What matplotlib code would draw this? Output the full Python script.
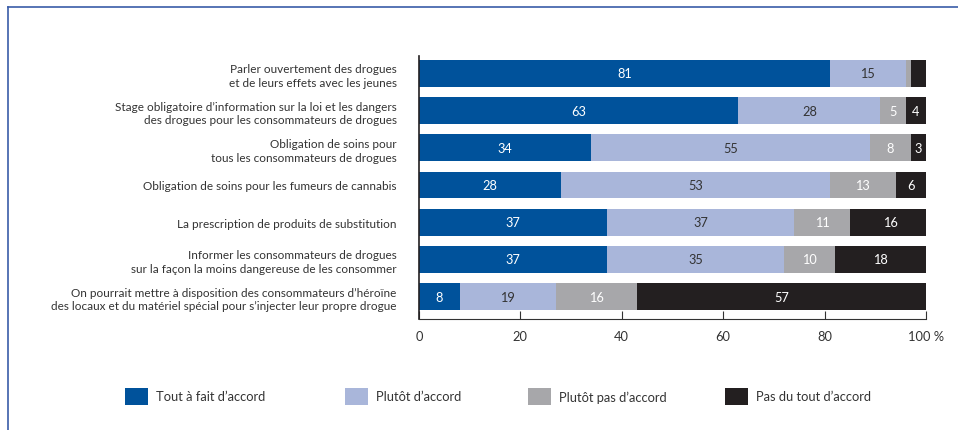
import matplotlib
matplotlib.use("Agg")
import matplotlib.pyplot as plt
from matplotlib.lines import Line2D
from matplotlib.patches import Rectangle
import numpy as np

plt.rcParams['font.family'] = ['Lato', 'DejaVu Sans']

categories = [
    "Parler ouvertement des drogues\net de leurs effets avec les jeunes",
    "Stage obligatoire d\u2019information sur la loi et les dangers\ndes drogues pour les consommateurs de drogues",
    "Obligation de soins pour\ntous les consommateurs de drogues",
    "Obligation de soins pour les fumeurs de cannabis",
    "La prescription de produits de substitution",
    "Informer les consommateurs de drogues\nsur la fa\u00e7on la moins dangereuse de les consommer",
    "On pourrait mettre \u00e0 disposition des consommateurs d\u2019h\u00e9ro\u00efne\ndes locaux et du mat\u00e9riel sp\u00e9cial pour s\u2019injecter leur propre drogue",
]
series_names = ["Tout \u00e0 fait d\u2019accord", "Plut\u00f4t d\u2019accord",
                "Plut\u00f4t pas d\u2019accord", "Pas du tout d\u2019accord"]
tout_a_fait = [81, 63, 34, 28, 37, 37, 8]
plutot = [15, 28, 55, 53, 37, 35, 19]
plutot_pas = [1, 5, 8, 13, 11, 10, 16]
pas_du_tout = [3, 4, 3, 6, 16, 18, 57]
show_labels = [[True] * 7, [True] * 7,
               [False, True, True, True, True, True, True],
               [False, True, True, True, True, True, True]]
x_ticks = [0, 20, 40, 60, 80, 100]
x_ticklabels = ["0", "20", "40", "60", "80", "100 %"]

colors = ["#00529B", "#A9B6DA", "#A7A7AA", "#231F20"]
text_colors = ["white", "#333333", "white", "white"]

fig = plt.figure(figsize=(9.58, 4.31), dpi=100)
ax = fig.add_axes([419/958, 1-320/431, (926-419)/958, (320-57)/431])

series = [tout_a_fait, plutot, plutot_pas, pas_du_tout]
y = np.arange(len(categories))
left = np.zeros(len(categories))
for s, (vals, col, tcol) in enumerate(zip(series, colors, text_colors)):
    vals = np.array(vals, dtype=float)
    ax.barh(y, vals, left=left, height=0.725, color=col, linewidth=0)
    for i, v in enumerate(vals):
        if show_labels[s][i]:
            ax.text(left[i] + v/2, y[i], f"{int(v)}", ha="center", va="center",
                    color=tcol, fontsize=9.2)
    left += vals

ax.set_xlim(0, 100)
ax.set_ylim(6.605, -0.47)
ax.set_yticks(y)
ax.set_yticklabels(categories, fontsize=8.5, color="#333333", linespacing=1.3)
ax.tick_params(axis="y", length=0, pad=16)
ax.set_xticks(x_ticks)
ax.set_xticklabels(x_ticklabels, fontsize=9.3, color="#333333")
ax.tick_params(axis="x", direction="in", length=6, width=0.8, color="#333333", pad=8)
for sp in ["top", "right"]:
    ax.spines[sp].set_visible(False)
ax.spines["left"].set_color("#231F20")
ax.spines["bottom"].set_color("#333333")
ax.spines["left"].set_linewidth(1.2)
ax.spines["bottom"].set_linewidth(0.8)

# legend
leg_x = [125, 345, 528, 725]
for hx, c, name in zip(leg_x, colors, series_names):
    fig.patches.append(Rectangle((hx/958, 1-405.5/431), 23/958, 16.5/431,
                                 transform=fig.transFigure, facecolor=c, edgecolor="none"))
    fig.text((hx+31)/958, 1-397.5/431, name, ha="left", va="center", fontsize=9.3, color="#333333")

# frame
fig.add_artist(Line2D([8/958, 1], [1-8/431, 1-8/431], transform=fig.transFigure,
                      color="#3A5CA8", linewidth=1.2, solid_capstyle="projecting"))
fig.add_artist(Line2D([8/958, 8/958], [0, 1-8/431], transform=fig.transFigure,
                      color="#3A5CA8", linewidth=1.2, solid_capstyle="projecting"))

fig.savefig("out.png", dpi=100)
